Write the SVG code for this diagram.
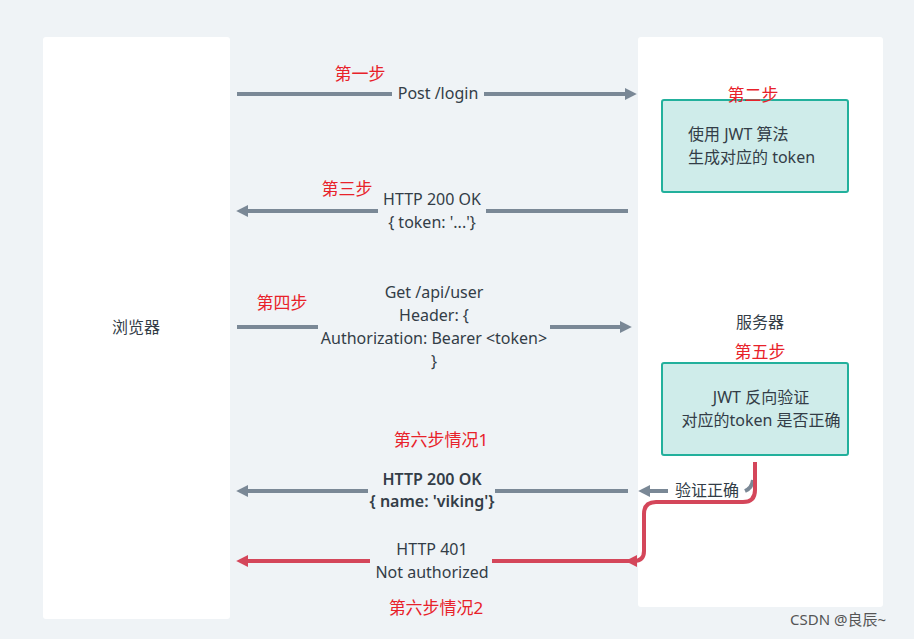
<svg xmlns="http://www.w3.org/2000/svg" width="914" height="639" viewBox="0 0 914 639">
<style>
text{font-family:"Noto Sans","Noto Sans CJK SC",sans-serif;font-size:16px;fill:#333d47}
.r{fill:#e8222a;font-size:17px}
.g{stroke:#7a8896;stroke-width:4;fill:none}
.red{stroke:#d4465a;stroke-width:4;fill:none}
.box{fill:#cfecea;stroke:#22b09c;stroke-width:2}
</style>
<defs>
<marker id="ag" viewBox="0 0 10 10" refX="6" refY="5" markerWidth="3" markerHeight="3" orient="auto-start-reverse"><path d="M0,0L10,5L0,10z" fill="#7a8896"/></marker>
<marker id="ar" viewBox="0 0 10 10" refX="6" refY="5" markerWidth="3" markerHeight="3" orient="auto-start-reverse"><path d="M0,0L10,5L0,10z" fill="#d4465a"/></marker>
</defs>
<rect width="914" height="639" fill="#eff3f6"/>
<g id="browser"><rect x="43" y="37" width="187" height="582" rx="3" fill="#fff"/><text x="136" y="333" text-anchor="middle">浏览器</text></g>
<g id="server"><rect x="638" y="37" width="245" height="570" rx="3" fill="#fff"/><text x="760" y="328" text-anchor="middle">服务器</text></g>
<g id="jwt1"><rect class="box" x="662" y="100" width="186" height="92" rx="2"/><text x="688" y="140">使用 JWT 算法</text><text x="688" y="163">生成对应的 token</text></g>
<g id="jwt2"><rect class="box" x="662" y="363" width="186" height="92" rx="2"/><text x="761" y="403" text-anchor="middle">JWT 反向验证</text><text x="761" y="426" text-anchor="middle">对应的token 是否正确</text></g>
<g id="connectors">
<path class="g" d="M237,94H392M484,94H632" marker-end="url(#ag)"/>
<path class="g" d="M628,211H486M378,211H241" marker-end="url(#ag)"/>
<path class="g" d="M237,327H318M550,327H627" marker-end="url(#ag)"/>
<path class="g" d="M368,491H241" marker-end="url(#ag)"/>
<path class="g" d="M628,491H495"/>
<path class="g" d="M668,491H643" marker-end="url(#ag)"/>
<path class="g" d="M745,491Q752,488 753,480"/>
<path class="red" d="M755,462V490Q755,502 743,502H656Q644,502 644,514V551Q644,561 634,561H630" marker-end="url(#ar)"/>
<path class="red" d="M370,561H241" marker-end="url(#ar)"/>
<path class="red" d="M630,561H492"/>
</g>
<g id="labels">
<text x="438" y="99" text-anchor="middle">Post /login</text>
<text x="432" y="205" text-anchor="middle">HTTP 200 OK</text>
<text x="432" y="228" text-anchor="middle">{ token: '...'}</text>
<text x="434" y="298" text-anchor="middle">Get /api/user</text>
<text x="434" y="321" text-anchor="middle">Header: {</text>
<text x="434" y="344" text-anchor="middle">Authorization: Bearer &lt;token&gt;</text>
<text x="434" y="367" text-anchor="middle">}</text>
<text x="432" y="485" text-anchor="middle" font-weight="600">HTTP 200 OK</text>
<text x="432" y="507" text-anchor="middle" font-weight="600">{ name: 'viking'}</text>
<text x="707" y="496" text-anchor="middle">验证正确</text>
<text x="432" y="555" text-anchor="middle">HTTP 401</text>
<text x="432" y="578" text-anchor="middle">Not authorized</text>
<text class="r" x="360" y="80" text-anchor="middle">第一步</text>
<text class="r" x="753" y="101" text-anchor="middle">第二步</text>
<text class="r" x="347" y="195" text-anchor="middle">第三步</text>
<text class="r" x="282" y="309" text-anchor="middle">第四步</text>
<text class="r" x="760" y="358" text-anchor="middle">第五步</text>
<text class="r" x="441" y="446" text-anchor="middle">第六步情况1</text>
<text class="r" x="436" y="614" text-anchor="middle">第六步情况2</text>
<text x="838" y="625" text-anchor="middle" style="font-size:15px;fill:#555">CSDN @良辰~</text>
</g>
</svg>
